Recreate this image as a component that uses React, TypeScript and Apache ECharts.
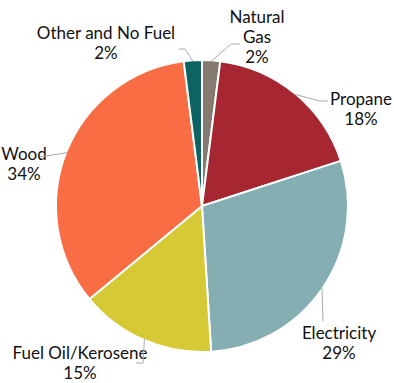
import React, { useEffect, useRef } from "react";
import * as echarts from "echarts";

const categories = ["Natural\nGas", "Propane", "Electricity", "Fuel Oil/Kerosene", "Wood", "Other and No Fuel"];
const values = [2, 18, 29, 15, 34, 2];
const colors = ["#857a70", "#a62631", "#85aeb3", "#d6c936", "#f96d45", "#0d6262"];
const labelPos = [
  [257, 36],
  [361, 108],
  [339, 342],
  [80, 362],
  [24, 163],
  [106, 42],
];
// bend and end points of each label line
const linePts: number[][][] = [
  [[231, 44], [240, 44]],
  [[320, 101], [328, 101]],
  [[323, 321]],
  [[143, 363], [136, 363]],
  [[40, 157]],
  [[185, 49], [179, 49]],
];

const CX = 202;
const CY = 206;
const R = 146;

export default function App() {
  const ref = useRef<HTMLDivElement>(null);
  useEffect(() => {
    const chart = echarts.init(ref.current!, null, { renderer: "svg" });
    const total = values.reduce((a, b) => a + b, 0);
    const mids: number[] = [];
    let acc = 0;
    values.forEach((v) => {
      mids.push(((acc + v / 2) / total) * Math.PI * 2);
      acc += v;
    });
    const guides = values.map((_, i) => {
      const a = mids[i];
      const start = [CX + (R - 1) * Math.sin(a), CY - (R - 1) * Math.cos(a)];
      return {
        type: "polyline",
        silent: true,
        z: 10,
        shape: { points: [start, ...linePts[i]] },
        style: { stroke: "#aaa", lineWidth: 1, fill: null },
      };
    });
    chart.setOption({
      animation: false,
      graphic: guides,
      series: [
        {
          type: "pie",
          center: [CX, CY],
          radius: R,
          startAngle: 90,
          clockwise: true,
          data: categories.map((c, i) => ({
            name: c,
            value: values[i],
            itemStyle: { color: colors[i] },
          })),
          itemStyle: { borderColor: "#fff", borderWidth: 2 },
          label: {
            formatter: "{b}\n{c}%",
            fontFamily: "Lato",
            fontSize: 17,
            lineHeight: 20,
            color: "#111",
            align: "center",
            overflow: "none",
          },
          labelLine: { show: false },
          labelLayout: (p: any) => ({
            x: labelPos[p.dataIndex][0],
            y: labelPos[p.dataIndex][1],
            align: "center",
            verticalAlign: "middle",
          }),
        },
      ],
    });
    return () => chart.dispose();
  }, []);
  return <div ref={ref} style={{ position: "absolute", left: 0, top: 0, width: 394, height: 383 }} />;
}
